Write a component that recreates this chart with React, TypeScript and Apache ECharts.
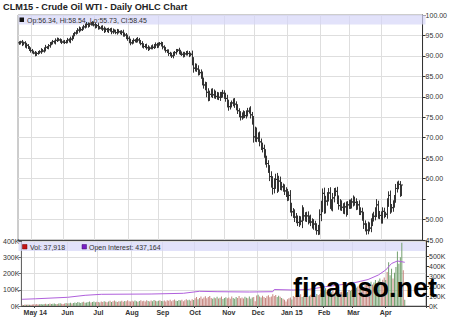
import React, { useEffect, useRef } from 'react';
import * as echarts from 'echarts';

const FONT = '"Liberation Sans", Arial, sans-serif';
const MONTHS = ['Jan', 'Feb', 'Mar', 'Apr', 'May', 'Jun', 'Jul', 'Aug', 'Sep', 'Oct', 'Nov', 'Dec'];

// Trading calendar shown on the axis (weekdays), Apr 18 2014 .. May 8 2015
const axisStart = [2014, 3, 18];
const axisEnd = [2015, 4, 8];

// Daily closes (Apr 18 2014 .. Apr 17 2015)
const firstOpen = 93.2;
const closes = [
  93.1, 93.4, 92.9, 93.2, 92.4, 92.6, 92.0, 91.6, 91.3,
  91.0, 90.7, 90.4, 90.6, 90.9, 91.0, 91.4, 91.2, 91.7, 92.1, 92.0, 92.5, 92.9, 93.2, 93.5, 93.3, 93.8, 94.1, 93.9, 93.6, 93.4, 93.5,
  93.3, 93.6, 93.9, 93.7, 94.1, 94.6, 95.1, 95.6, 95.9, 96.3, 96.6, 96.4, 96.9, 97.1, 97.5, 97.7, 97.4, 97.8, 97.9, 98.0, 97.6,
  97.2, 97.4, 97.0, 96.8, 97.0, 96.6, 96.2, 96.5, 96.1, 96.4, 96.3, 95.9, 96.2, 96.0, 95.7, 96.1, 95.9, 95.6, 95.8, 95.3, 95.1, 94.6, 94.3,
  93.6, 93.2, 93.5, 93.8, 93.6, 94.0, 93.9, 93.5, 93.0, 92.6, 92.3, 92.5, 92.0, 91.8, 91.9, 92.3, 92.1, 92.5, 92.7, 92.4, 92.9,
  93.0, 92.8, 92.2, 91.7, 91.3, 91.0, 90.6, 90.3, 90.0, 90.4, 90.8, 91.2, 91.4, 91.0, 90.7, 90.4, 90.2, 90.5, 90.8, 90.6, 90.3, 90.4,
  88.6, 87.0, 87.4, 86.8, 86.1, 85.9, 85.2, 83.8, 82.9, 82.4, 81.1, 79.9, 80.6, 81.3, 80.5, 80.9, 80.1, 80.4, 79.9, 80.3, 80.6, 80.9, 80.2,
  79.6, 78.3, 77.6, 78.0, 78.5, 78.8, 78.2, 77.4, 76.6, 75.6, 75.1, 75.5, 75.9, 75.4, 76.0, 76.5, 76.8, 75.6, 73.9, 70.2,
  71.5, 69.9, 70.4, 69.0, 67.8, 67.4, 66.0, 64.6, 63.7, 62.2, 60.5, 59.1, 57.6, 58.9, 59.8, 58.1, 59.4, 58.3, 58.0, 57.6, 57.0, 56.4, 55.6,
  55.9, 53.0, 51.9, 51.3, 50.6, 50.1, 49.3, 49.8, 49.6, 51.8, 50.9, 50.4, 50.9, 49.9, 50.2, 49.4, 48.7, 48.9, 48.1, 47.3, 47.6, 51.2,
  53.0, 56.4, 52.8, 54.5, 55.6, 56.5, 54.0, 53.2, 55.3, 56.6, 56.9, 54.9, 53.4, 53.8, 53.0, 52.4, 53.1, 52.0, 53.6, 53.9,
  53.6, 54.3, 54.8, 54.2, 53.3, 53.6, 52.2, 51.9, 50.7, 48.9, 48.0, 47.4, 48.5, 47.9, 49.3, 50.6, 50.8, 52.0, 53.6, 51.2, 51.0, 50.0,
  52.0, 51.2, 51.3, 54.1, 55.9, 52.6, 52.9, 53.7, 55.2, 57.6, 58.3, 58.6, 56.34,
];

// Extra reach of each day's high/low beyond its open-close body
const wicks = [
  .4, .3, .5, .3, .4, .6, .3, .4, .5,
  .4, .3, .5, .4, .3, .4, .5, .3, .4, .6, .3, .4, .5, .3, .4, .3, .5, .4, .3, .4, .5, .3,
  .4, .3, .5, .4, .6, .4, .5, .3, .4, .5, .6, .4, .3, .5, .4, .6, .5, .3, .4, .5, .4,
  .5, .4, .6, .3, .4, .5, .6, .4, .3, .5, .4, .6, .5, .3, .4, .5, .4, .3, .5, .6, .4, .5, .6,
  .5, .6, .4, .5, .3, .4, .6, .5, .4, .6, .5, .4, .5, .6, .4, .3, .5, .4, .6, .5, .4,
  .4, .5, .6, .4, .5, .3, .6, .4, .5, .6, .4, .5, .3, .6, .5, .4, .6, .5, .4, .5, .6, .4,
  .9, 1.1, .8, .7, .9, .6, .8, 1.0, .9, .8, 1.2, 1.0, .9, .7, .8, .9, .6, .8, .7, .9, .6, .8, .7,
  .8, .9, 1.0, .7, .6, .8, .9, .7, .8, .6, .9, .7, .8, .6, .7, .8, .6, .9, .7, 1.4,
  1.2, 1.0, .9, 1.1, .8, 1.0, .9, 1.2, 1.0, .8, 1.1, 1.3, 1.5, 1.2, 1.4, 1.6, 1.3, 1.1, .9, .8, 1.0, .9, 1.1,
  1.0, 1.3, 1.1, .9, 1.2, 1.0, .9, 1.1, 1.0, 1.7, 1.2, .9, 1.0, 1.1, .8, 1.0, .9, 1.2, .8, 1.0, 1.1, 1.3,
  1.6, 1.2, 1.4, 1.3, 1.1, 1.2, 1.4, 1.0, 1.2, 1.1, .9, 1.1, 1.0, 1.2, .9, 1.0, 1.1, 1.3, .9, 1.0,
  1.0, .9, 1.1, .8, 1.0, .9, 1.1, .8, 1.0, 1.2, .9, 1.1, 1.0, .8, 1.0, .9, 1.1, 1.0, 1.4, 1.0, .9, 1.0,
  1.0, .9, .6, 1.1, 1.0, 1.2, .9, 1.0, .8, 1.1, 1.0, .9, .8,
];

// Last session (Apr 20 2015), from the header
const lastBar = { op: 56.34, hi: 58.54, lo: 55.73, cl: 58.45 };

// Daily volume, thousands of contracts
const volumesK = [
  8, 6, 9, 7, 10, 8, 7, 9, 11,
  10, 12, 9, 11, 13, 10, 12, 14, 11, 13, 15, 12, 14, 16, 13, 12, 15, 17, 14, 13, 16, 18,
  15, 17, 20, 16, 18, 22, 19, 24, 21, 18, 23, 26, 20, 22, 25, 28, 21, 24, 27, 23, 26,
  25, 22, 28, 24, 30, 26, 23, 27, 32, 25, 29, 34, 27, 24, 30, 28, 33, 26, 31, 29, 35, 30, 27,
  32, 28, 34, 30, 26, 31, 36, 29, 33, 27, 35, 31, 28, 34, 30, 37, 32, 29, 33, 36, 31,
  30, 34, 28, 36, 32, 38, 29, 35, 40, 33, 31, 37, 34, 39, 30, 36, 42, 35, 38, 33, 41, 37,
  48, 55, 42, 50, 58, 45, 52, 60, 47, 56, 62, 50, 44, 53, 48, 57, 46, 51, 59, 43, 49, 54, 47,
  52, 45, 58, 49, 44, 55, 50, 61, 47, 53, 46, 57, 51, 48, 59, 45, 52, 56, 30, 65,
  70, 58, 52, 63, 55, 49, 60, 66, 54, 58, 72, 61, 68, 55, 63, 57, 50, 45, 38, 28, 42, 48, 53,
  40, 62, 55, 68, 58, 64, 72, 56, 60, 78, 66, 58, 63, 70, 57, 65, 60, 74, 68, 72, 80, 85,
  95, 110, 88, 92, 78, 85, 98, 82, 90, 105, 76, 84, 88, 72, 94, 80, 86, 98, 92, 100,
  105, 98, 112, 120, 108, 115, 125, 118, 130, 142, 128, 136, 150, 132, 145, 160, 138, 155, 170, 148, 162, 175,
  160, 210, 270, 190, 230, 170, 205, 240, 335, 260, 300, 390, 220, 37.918,
];

// Open interest, thousands: [trading-day index, value]
const openInterestK = [
  [0, 67], [9, 72], [31, 87], [43, 107], [54, 117], [88, 120], [110, 127], [121, 147],
  [133, 143], [155, 140], [171, 143], [172, 165], [185, 160], [195, 165], [207, 193],
  [225, 227], [236, 265], [243, 310], [248, 360], [252, 425], [256, 450], [261, 437.164],
];

type Day = { key: string; y: number; m: number };
function buildDays(): Day[] {
  const out: Day[] = [];
  const d = new Date(Date.UTC(axisStart[0], axisStart[1], axisStart[2]));
  const end = Date.UTC(axisEnd[0], axisEnd[1], axisEnd[2]);
  while (d.getTime() <= end) {
    const wd = d.getUTCDay();
    if (wd !== 0 && wd !== 6) {
      const y = d.getUTCFullYear();
      const m = d.getUTCMonth();
      const key = `${y}-${String(m + 1).padStart(2, '0')}-${String(d.getUTCDate()).padStart(2, '0')}`;
      out.push({ key, y, m });
    }
    d.setUTCDate(d.getUTCDate() + 1);
  }
  return out;
}

export default function App() {
  const ref = useRef<HTMLDivElement>(null);

  useEffect(() => {
    if (!ref.current) return;
    const chart = echarts.init(ref.current, undefined, { renderer: 'svg' });

    const days = buildDays();
    const cats = days.map((d) => d.key);
    const nData = closes.length + 1;
    const isMonthStart = (i: number) =>
      i > 0 && i < nData && !!days[i] && days[i].m !== days[i - 1].m;
    let firstLabel = -1;
    for (let i = 0; i < days.length; i++) if (isMonthStart(i)) { firstLabel = i; break; }
    const monthLabel = (_v: string, i: number) => {
      const d = days[i];
      if (!d) return '';
      const name = MONTHS[d.m];
      return i === firstLabel || d.m === 0 ? `${name} ${String(d.y).slice(2)}` : name;
    };

    const ohlc: number[][] = closes.map((c, i) => {
      const o = i === 0 ? firstOpen : closes[i - 1];
      const w = wicks[i];
      return [i, o, Math.max(o, c) + w, Math.min(o, c) - w, c];
    });
    ohlc.push([closes.length, lastBar.op, lastBar.hi, lastBar.lo, lastBar.cl]);

    const volData = volumesK.map((v, i) => {
      const up = ohlc[i][4] >= ohlc[i][1];
      return { value: v, itemStyle: { color: up ? '#74a06f' : '#c7847d' } };
    });
    const oiData = openInterestK.map(([i, v]) => [cats[i], v]);

    const lastVol = Math.round(volumesK[volumesK.length - 1] * 1000).toLocaleString('en-US');
    const lastOI = Math.round(openInterestK[openInterestK.length - 1][1] * 1000).toLocaleString('en-US');

    const L = 18, R = 24, W = 450 - L - R;

    const option: any = {
      animation: false,
      backgroundColor: '#ffffff',
      textStyle: { fontFamily: FONT },
      title: {
        text: 'CLM15 - Crude Oil WTI - Daily OHLC Chart',
        left: 3, top: 2, padding: 0,
        textStyle: { fontSize: 9.2, fontWeight: 'bold', color: '#222', fontFamily: FONT },
      },
      grid: [
        { left: L, right: R, top: 15, height: 225, show: true, borderColor: '#9a9a9a', borderWidth: 1 },
        { left: L, right: R, top: 241, height: 65, show: true, borderColor: '#9a9a9a', borderWidth: 1 },
      ],
      xAxis: [
        {
          type: 'category', gridIndex: 0, data: cats, boundaryGap: true,
          axisLine: { show: true, lineStyle: { color: '#444', width: 1 } },
          axisTick: { show: false }, axisLabel: { show: false },
          splitLine: { show: true, interval: (i: number) => isMonthStart(i), lineStyle: { color: '#dedede' } },
        },
        {
          type: 'category', gridIndex: 1, data: cats, boundaryGap: true,
          axisLine: { show: true, lineStyle: { color: '#444' } },
          axisTick: { show: true, interval: (i: number) => isMonthStart(i), length: 2, lineStyle: { color: '#444' } },
          axisLabel: {
            interval: (i: number) => isMonthStart(i), formatter: monthLabel,
            fontSize: 7, fontWeight: 'bold', color: '#333', margin: 3, fontFamily: FONT,
          },
          splitLine: { show: true, interval: (i: number) => isMonthStart(i), lineStyle: { color: '#dedede' } },
        },
      ],
      yAxis: [
        {
          type: 'value', gridIndex: 0, position: 'right', min: 45, max: 100, interval: 5,
          axisLine: { show: true, lineStyle: { color: '#333' } },
          axisTick: { show: true, length: 3, lineStyle: { color: '#333' } },
          axisLabel: {
            fontSize: 7, color: '#333', margin: 3, fontFamily: FONT,
            formatter: (v: number) => (v === 55 ? '' : v.toFixed(2)),
          },
          splitLine: { show: true, lineStyle: { color: '#dedede' } },
        },
        {
          type: 'value', gridIndex: 1, position: 'left', min: 0, max: 400, interval: 100,
          axisLine: { show: true, lineStyle: { color: '#666' } },
          axisTick: { show: true, length: 3, lineStyle: { color: '#666' } },
          axisLabel: { fontSize: 7, color: '#333', margin: 2, fontFamily: FONT, formatter: (v: number) => `${v}K` },
          splitLine: { show: true, lineStyle: { color: '#dedede' } },
        },
        {
          type: 'value', gridIndex: 1, position: 'right', min: 0, max: 650, interval: 100,
          axisLine: { show: true, lineStyle: { color: '#333' } },
          axisTick: { show: true, length: 3, lineStyle: { color: '#333' } },
          axisLabel: {
            fontSize: 7, color: '#333', margin: 3, fontFamily: FONT,
            formatter: (v: number) => (v >= 600 ? '' : `${v}K`),
          },
          splitLine: { show: false },
        },
      ],
      series: [
        {
          type: 'custom', name: 'OHLC', xAxisIndex: 0, yAxisIndex: 0, clip: true,
          encode: { x: 0, y: [1, 2, 3, 4] },
          data: ohlc,
          renderItem: (_p: any, api: any) => {
            const x = api.value(0);
            const pH = api.coord([x, api.value(2)]);
            const pL = api.coord([x, api.value(3)]);
            const pO = api.coord([x, api.value(1)]);
            const pC = api.coord([x, api.value(4)]);
            const px = Math.round(pH[0]) + 0.5;
            const st = { stroke: '#333', lineWidth: 1 };
            return {
              type: 'group',
              children: [
                { type: 'line', shape: { x1: px, y1: pH[1], x2: px, y2: pL[1] }, style: st },
                { type: 'line', shape: { x1: px - 1.5, y1: pO[1], x2: px, y2: pO[1] }, style: st },
                { type: 'line', shape: { x1: px, y1: pC[1], x2: px + 1.5, y2: pC[1] }, style: st },
              ],
            };
          },
        },
        {
          type: 'line', name: 'Close', xAxisIndex: 0, yAxisIndex: 0, silent: true,
          data: ohlc.map((r) => r[4]), symbol: 'none', lineStyle: { opacity: 0 },
          markLine: {
            silent: true, symbol: 'none', lineStyle: { opacity: 0 },
            data: [{ yAxis: lastBar.cl }],
            label: {
              show: true, position: 'end', formatter: lastBar.cl.toFixed(2),
              backgroundColor: '#111', color: '#fff', fontSize: 7, fontFamily: FONT,
              padding: [1, 1, 0, 1], distance: 2, offset: [0, 9],
            },
          },
        },
        {
          type: 'bar', name: 'Vol', xAxisIndex: 1, yAxisIndex: 1, barWidth: 1, data: volData,
        },
        {
          type: 'line', name: 'Open Interest', xAxisIndex: 1, yAxisIndex: 2, data: oiData,
          symbol: 'none', lineStyle: { color: '#b060dc', width: 1 }, z: 4,
        },
      ],
      graphic: [
        { type: 'rect', z: 1, silent: true, shape: { x: L + 0.5, y: 15, width: W - 1, height: 9.5 }, style: { fill: 'rgba(214,214,248,0.7)' } },
        { type: 'rect', z: 5, silent: true, shape: { x: 19.5, y: 17.5, width: 4.5, height: 4.5 }, style: { fill: '#111' } },
        {
          type: 'text', z: 5, silent: true, x: 27, y: 20,
          style: {
            text: `Op:${lastBar.op.toFixed(2)}, Hi:${lastBar.hi.toFixed(2)}, Lo:${lastBar.lo.toFixed(2)}, Cl:${lastBar.cl.toFixed(2)}`,
            font: `7px ${FONT}`, fill: '#333', verticalAlign: 'middle',
          },
        },
        { type: 'rect', z: 1, silent: true, shape: { x: L + 0.5, y: 242, width: W - 1, height: 9 }, style: { fill: 'rgba(214,214,248,0.7)' } },
        { type: 'rect', z: 5, silent: true, shape: { x: 22.5, y: 244.5, width: 4.5, height: 4.5 }, style: { fill: '#c41414', stroke: '#700', lineWidth: 0.5 } },
        { type: 'text', z: 5, silent: true, x: 30, y: 247, style: { text: `Vol: ${lastVol}`, font: `7px ${FONT}`, fill: '#333', verticalAlign: 'middle' } },
        { type: 'rect', z: 5, silent: true, shape: { x: 82, y: 244.5, width: 4.5, height: 4.5 }, style: { fill: '#7a1fc4', stroke: '#40106a', lineWidth: 0.5 } },
        { type: 'text', z: 5, silent: true, x: 89, y: 247, style: { text: `Open Interest: ${lastOI}`, font: `7px ${FONT}`, fill: '#333', verticalAlign: 'middle' } },
        {
          type: 'text', z: 50, silent: true, x: 293, y: 274,
          style: { text: 'finanso.net', font: `bold 27px ${FONT}`, fill: '#000', verticalAlign: 'top' },
        },
      ],
    };

    chart.setOption(option);
    return () => chart.dispose();
  }, []);

  return <div ref={ref} style={{ position: 'fixed', left: 0, top: 0, width: 450, height: 317 }} />;
}
